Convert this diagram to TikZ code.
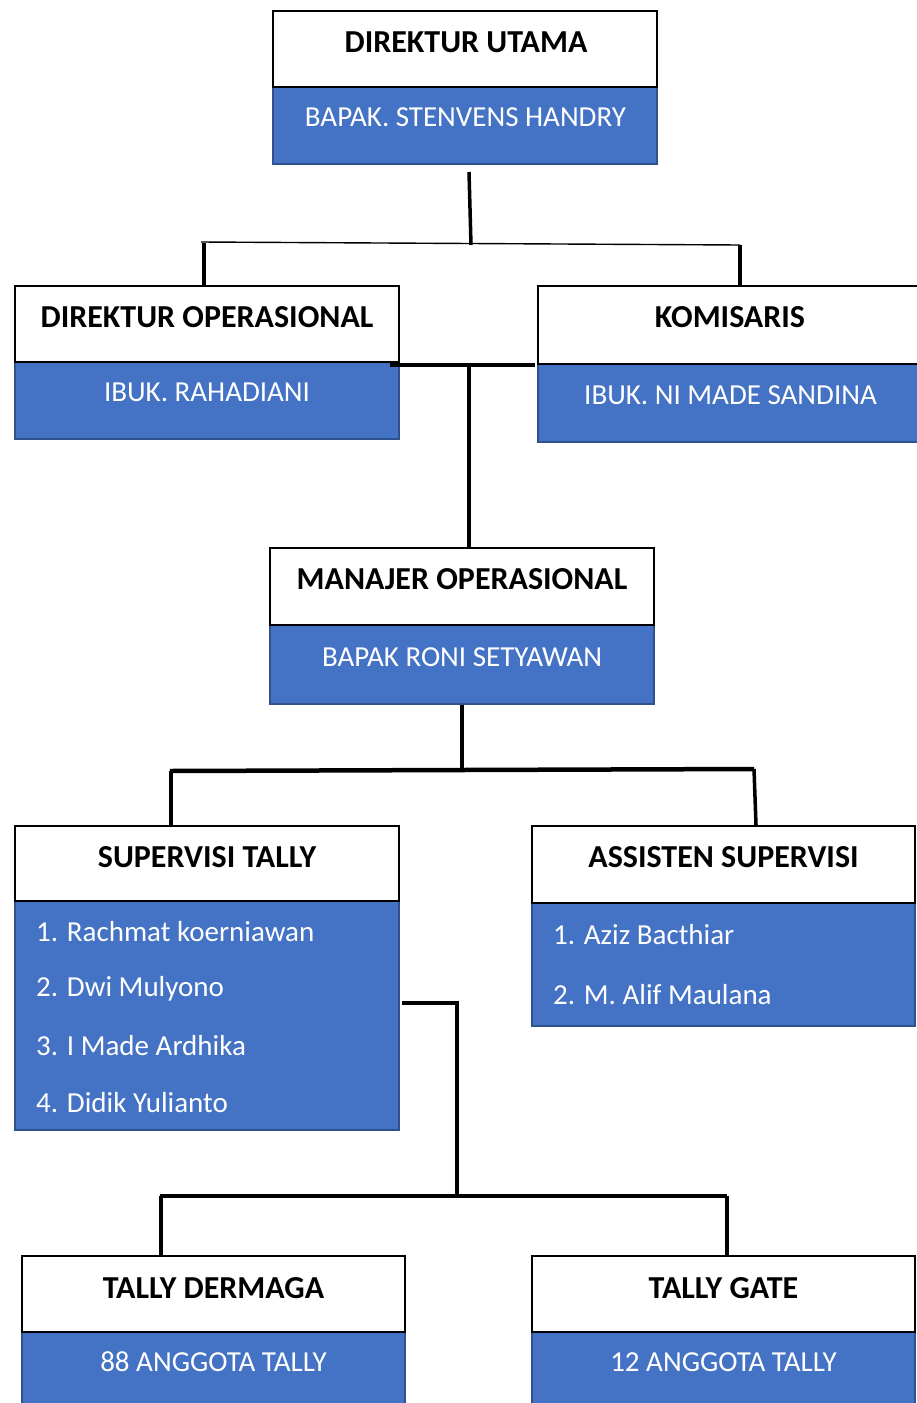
\documentclass[tikz,border=0pt]{standalone}
\usepackage{fontspec}
\setmainfont{Carlito}
\usetikzlibrary{calc}
\definecolor{boxblue}{HTML}{4472C4}
\definecolor{boxedge}{HTML}{2F528F}
\tikzset{
  whitebox/.style={draw=black, line width=2pt, fill=white, inner sep=0pt, minimum width=384pt},
  bluebox/.style={draw=boxedge, line width=2pt, fill=boxblue, inner sep=0pt, minimum width=384pt},
  titletext/.style={font=\fontsize{32}{38}\selectfont\bfseries, text=black, inner sep=0pt},
  nametext/.style={font=\fontsize{29}{35}\selectfont, text=white, inner sep=0pt},
  itemtext/.style={font=\fontsize{29}{35}\selectfont, text=white, inner sep=0pt, anchor=west},
  link/.style={line width=3.5pt, black},
  thicklink/.style={line width=4.5pt, black},
  thinlink/.style={line width=1.4pt, black},
}
\begin{document}
\begin{tikzpicture}[x=1pt, y=-1pt]
\useasboundingbox[fill=white] (0,0) rectangle (917,1403);

% DIREKTUR UTAMA
\node[bluebox, minimum height=77pt] (du-b) at (465,125.5) {};
\node[whitebox, minimum height=76pt] (du-t) at (465,49) {};
\node[titletext] (du-tt) at (466,42) {DIREKTUR UTAMA};
\node[nametext] (du-n) at (465.5,117) {BAPAK. STENVENS HANDRY};

% DIREKTUR OPERASIONAL
\node[bluebox, minimum height=77pt] (do-b) at (207,400.5) {};
\node[whitebox, minimum height=76pt] (do-t) at (207,324) {};
\node[titletext] (do-tt) at (207,317) {DIREKTUR OPERASIONAL};
\node[nametext] (do-n) at (207,392) {IBUK. RAHADIANI};

% KOMISARIS
\node[bluebox, minimum width=382pt, minimum height=78pt] (kom-b) at (729,403) {};
\node[whitebox, minimum width=382pt, minimum height=78pt] (kom-t) at (729,325) {};
\node[titletext] (kom-tt) at (730,317) {KOMISARIS};
\node[nametext] (kom-n) at (730.5,395) {IBUK. NI MADE SANDINA};

% MANAJER OPERASIONAL
\node[bluebox, minimum height=79pt] (mo-b) at (462,664.5) {};
\node[whitebox, minimum height=77pt] (mo-t) at (462,586.5) {};
\node[titletext] (mo-tt) at (462,579) {MANAJER OPERASIONAL};
\node[nametext] (mo-n) at (462,657) {BAPAK RONI SETYAWAN};

% SUPERVISI TALLY
\node[bluebox, minimum height=229pt] (st-b) at (207,1015.5) {};
\node[whitebox, minimum height=75pt] (st-t) at (207,863.5) {};
\node[titletext] (st-tt) at (207,857) {SUPERVISI TALLY};
\node[itemtext] (st-1) at (36,932) {1. Rachmat koerniawan};
\node[itemtext] (st-2) at (36,989) {2. Dwi Mulyono};
\node[itemtext] (st-3) at (36,1046) {3. I Made Ardhika};
\node[itemtext] (st-4) at (36,1103) {4. Didik Yulianto};

% ASSISTEN SUPERVISI
\node[bluebox, minimum width=383pt, minimum height=123pt] (as-b) at (723.5,964.5) {};
\node[whitebox, minimum width=383pt, minimum height=77pt] (as-t) at (723.5,864.5) {};
\node[titletext] (as-tt) at (723.5,857) {ASSISTEN SUPERVISI};
\node[itemtext] (as-1) at (553,935) {1. Aziz Bacthiar};
\node[itemtext] (as-2) at (553,995) {2. M. Alif Maulana};

% TALLY DERMAGA
\node[bluebox, minimum width=383pt, minimum height=78pt] (td-b) at (213.5,1371) {};
\node[whitebox, minimum width=383pt, minimum height=76pt] (td-t) at (213.5,1294) {};
\node[titletext] (td-tt) at (213.5,1288) {TALLY DERMAGA};
\node[nametext] (td-n) at (213.5,1362) {88 ANGGOTA TALLY};

% TALLY GATE
\node[bluebox, minimum width=383pt, minimum height=78pt] (tg-b) at (723.5,1371) {};
\node[whitebox, minimum width=383pt, minimum height=76pt] (tg-t) at (723.5,1294) {};
\node[titletext] (tg-tt) at (723.5,1288) {TALLY GATE};
\node[nametext] (tg-n) at (723.5,1362) {12 ANGGOTA TALLY};

% connectors: top level
\coordinate (j1) at (471,245);
\coordinate (j1l) at (201,242);
\coordinate (j1r) at (740,245);
\coordinate (j1la) at (204,243);
\draw[link] ([xshift=4pt,yshift=-7pt]du-b.south) -- (j1);
\draw[thinlink] (j1l) -- (j1r);
\draw[link] (j1la) -- (j1la |- do-t.north);
\draw[link] (j1r) -- (j1r |- kom-t.north);

% connectors: middle
\coordinate (m1) at (390,365);
\coordinate (m2) at (535,365);
\coordinate (m3) at (469,365);
\draw[thicklink] (m1) -- (m2);
\draw[link] (m3) -- (m3 |- mo-t.north);

% connectors: manajer
\coordinate (j2) at (462,769);
\coordinate (j2l) at (170,771);
\coordinate (j2r) at (754,769);
\draw[link] (mo-b.south) -- (j2);
\draw[thicklink] (j2l) -- (j2r);
\draw[link] ([xshift=1pt]j2l) -- ([xshift=1pt]j2l |- st-t.north);
\draw[link] (j2r) -- ([xshift=32.5pt]as-t.north);

% connectors: supervisi
\coordinate (s1) at (402,1003);
\coordinate (s2) at (457,1003);
\coordinate (j3) at (457,1196);
\coordinate (j3l) at (160,1196);
\coordinate (j3r) at (727,1196);
\draw[link] (s1) -- (s2) -- (j3);
\draw[link] (j3l) -- (j3r);
\draw[link] ([xshift=1pt]j3l) -- ([xshift=1pt]j3l |- td-t.north);
\draw[link] (j3r) -- (j3r |- tg-t.north);
\end{tikzpicture}
\end{document}
